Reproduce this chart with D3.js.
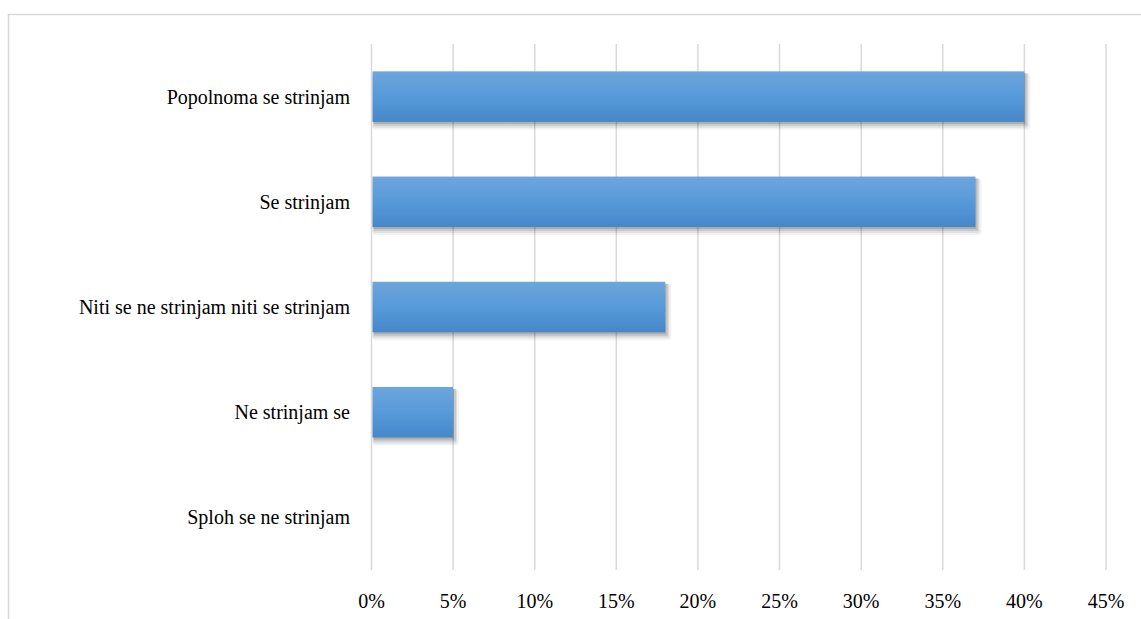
<!DOCTYPE html>
<html>
<head>
<meta charset="utf-8">
<script src="https://cdn.jsdelivr.net/npm/d3@7"></script>
<style>
  html, body { margin: 0; padding: 0; background: #fff; }
</style>
</head>
<body>
<svg id="chart" width="1141" height="619"></svg>
<script>
// Survey responses: share of respondents per answer
const categories = [
  "Popolnoma se strinjam",
  "Se strinjam",
  "Niti se ne strinjam niti se strinjam",
  "Ne strinjam se",
  "Sploh se ne strinjam"
];
const values = [0.40, 0.37, 0.18, 0.05, 0.0];
const tickValues = [0, 0.05, 0.10, 0.15, 0.20, 0.25, 0.30, 0.35, 0.40, 0.45];

const svg = d3.select("#chart");
const W = 1141, H = 619;
const margin = { left: 371.5, right: 35, top: 44, bottom: 49 };

// Chart frame (extends beyond the visible area on right and bottom)
svg.append("rect")
  .attr("x", 8.5).attr("y", 14.5)
  .attr("width", W + 20).attr("height", H + 20)
  .attr("fill", "#fff")
  .attr("stroke", "#d9d9d9").attr("stroke-width", 1.5);

const x = d3.scaleLinear().domain([0, 0.45]).range([margin.left, W - margin.right]);
const y = d3.scaleBand().domain(categories).range([margin.top, H - margin.bottom]).paddingInner(0.52).paddingOuter(0.26);

const defs = svg.append("defs");
const grad = defs.append("linearGradient").attr("id", "barGrad")
  .attr("x1", 0).attr("y1", 0).attr("x2", 0).attr("y2", 1);
grad.append("stop").attr("offset", "0%").attr("stop-color", "#6ea5dc");
grad.append("stop").attr("offset", "50%").attr("stop-color", "#579ad9");
grad.append("stop").attr("offset", "100%").attr("stop-color", "#4587c9");

// Vertical gridlines
svg.append("g").selectAll("line")
  .data(tickValues)
  .join("line")
  .attr("x1", d => x(d)).attr("x2", d => x(d))
  .attr("y1", margin.top).attr("y2", H - margin.bottom)
  .attr("stroke", "#d9d9d9").attr("stroke-width", 1.5);

const barData = categories.map((c, i) => ({ c, v: values[i] })).filter(d => d.v > 0);

// Soft shadow under each bar, built from a few translucent offset layers
const shadowLayers = [
  { dx: 1, dy: 2, grow: 0, o: 0.14 },
  { dx: 2, dy: 3, grow: 1, o: 0.10 },
  { dx: 2, dy: 4, grow: 2, o: 0.07 },
  { dx: 3, dy: 5, grow: 3, o: 0.05 }
];
const gShadow = svg.append("g");
shadowLayers.forEach(L => {
  gShadow.append("g").selectAll("rect")
    .data(barData)
    .join("rect")
    .attr("x", x(0) + 1 + L.dx - L.grow)
    .attr("y", d => y(d.c) + L.dy - L.grow)
    .attr("width", d => x(d.v) - x(0) - 1 + 2 * L.grow)
    .attr("height", y.bandwidth() + 2 * L.grow)
    .attr("rx", L.grow)
    .attr("fill", "#000")
    .attr("fill-opacity", L.o);
});

// Bars
svg.append("g").selectAll("rect")
  .data(barData)
  .join("rect")
  .attr("x", x(0) + 1)
  .attr("y", d => y(d.c))
  .attr("width", d => x(d.v) - x(0) - 1)
  .attr("height", y.bandwidth())
  .attr("fill", "url(#barGrad)");

// Category labels
svg.append("g").selectAll("text")
  .data(categories)
  .join("text")
  .style("font-family", '"Liberation Serif"')
  .attr("font-size", 20)
  .attr("fill", "#000")
  .attr("x", 350)
  .attr("y", d => y(d) + y.bandwidth() / 2 + 7)
  .attr("text-anchor", "end")
  .text(d => d);

// Percentage tick labels
const fmt = d3.format(".0%");
svg.append("g").selectAll("text")
  .data(tickValues)
  .join("text")
  .style("font-family", '"Liberation Serif"')
  .attr("font-size", 20)
  .attr("fill", "#000")
  .attr("x", d => x(d))
  .attr("y", 608)
  .attr("text-anchor", "middle")
  .text(d => fmt(d));
</script>
</body>
</html>
